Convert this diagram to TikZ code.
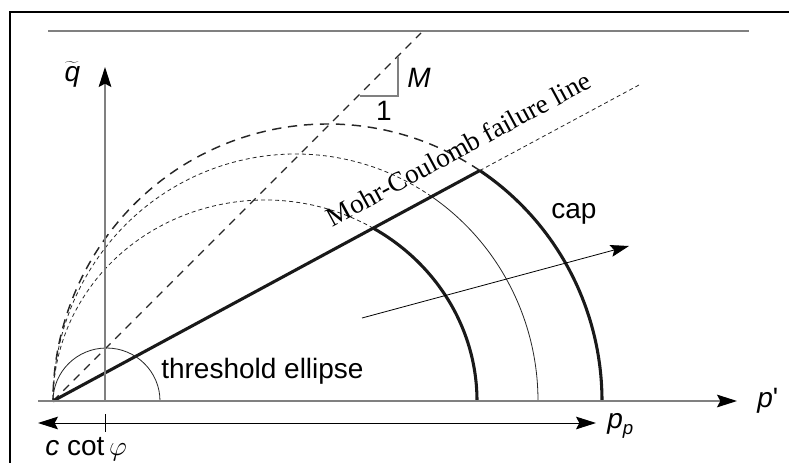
\documentclass[tikz,border=0pt]{standalone}
\usepackage{fontspec}
\setmainfont{Liberation Sans}
\newfontfamily\mcserif{Liberation Serif}
\usetikzlibrary{arrows.meta}
\tikzset{
  bigtip/.tip={Stealth[length=15pt,width=9.5pt,inset=2.5pt,black]},
  smalltip/.tip={Stealth[length=14pt,width=9pt,inset=2.5pt,black]},
}
\begin{document}
\begin{tikzpicture}[x=0.75pt,y=0.75pt,
  axisline/.style={draw=black!50, line width=1.1pt},
  thickline/.style={draw=black!90, line width=2.3pt},
  thinline/.style={draw=black!85, line width=0.6pt},
  longdash/.style={draw=black!85, line width=1.1pt, dash pattern=on 7pt off 5pt},
  mdash/.style={draw=black!85, line width=0.9pt, dash pattern=on 6pt off 5pt},
  shortdash/.style={draw=black!85, line width=0.6pt, dash pattern=on 3pt off 2.3pt},
  lab/.style={inner sep=0pt, font=\fontsize{21}{24}\selectfont},
]
\useasboundingbox (0,0) rectangle (789,462);
% frame
\draw[line width=1.5pt] (10,-5) -- (10,450.5) -- (795,450.5);
\draw[draw=black!50, line width=1pt] (48,431) -- (749,431);

% key points
\coordinate (O) at (53,61);
\coordinate (Cin) at (265,61);
\coordinate (Cmid) at (295.5,61);
\coordinate (Cout) at (327.5,61);
\path (Cin) ++(59.3:212 and 201) coordinate (Kin);
\path (Cmid) ++(55.9:242.5 and 247) coordinate (Kmid);
\path (Cout) ++(56.3:274.5 and 277) coordinate (Kout);
\coordinate (MCend) at (639,377);
\coordinate (Mend) at (421,429);

% dashed continuations of the yield surfaces
\draw[longdash] (Kout) arc[start angle=56.3, end angle=180, x radius=274.5, y radius=277];
\draw[shortdash] (Kmid) arc[start angle=55.9, end angle=180, x radius=242.5, y radius=247];
\draw[shortdash] (Kin) arc[start angle=59.3, end angle=180, x radius=212, y radius=201];

% solid caps
\draw[thickline] (Kout) arc[start angle=56.3, end angle=0, x radius=274.5, y radius=277];
\draw[thinline] (Kmid) arc[start angle=55.9, end angle=0, x radius=242.5, y radius=247];
\draw[thickline] (Kin) arc[start angle=59.3, end angle=0, x radius=212, y radius=201];

% M line
\draw[mdash] (O) -- (Mend);
\coordinate (Ta) at (360,366);
\coordinate (Tb) at (398,366);
\coordinate (Tc) at (398,405);
\draw[draw=black!50, line width=0.9pt] (Ta) -- (Tb) -- (Tc);
\node[lab, font=\fontsize{21}{24}\selectfont\itshape, anchor=base west] (Mlab) at (407,375) {M};
\node[lab, anchor=base] (onelab) at (384,342) {1};

% Mohr-Coulomb line
\draw[thickline] (O) -- (Kout);
\draw[shortdash] (Kout) -- (MCend);
\node[inner sep=0pt, font=\mcserif\fontsize{20.4}{22}\selectfont, rotate=28.37, anchor=base] (mclab) at (463,305) {Mohr-Coulomb failure line};

% threshold ellipse
\coordinate (Th) at (160,61);
\draw[thinline] (Th) arc[start angle=0, end angle=180, x radius=53.5, y radius=53];
\node[lab, anchor=base west] (thlab) at (161,84) {threshold ellipse};

\node[lab, anchor=base west] (caplab) at (551,244) {cap};

% hardening direction arrow
\coordinate (Ha) at (362,144);
\coordinate (Hb) at (629,216);
\draw[line width=0.6pt, -{smalltip}] (Ha) -- (Hb);

% axes
\coordinate (Xa) at (38,61);
\coordinate (Xb) at (737,61);
\coordinate (Ya) at (105,61);
\coordinate (Yb) at (105,395);
\draw[axisline, -{bigtip}] (Xa) -- (Xb);
\draw[axisline, -{bigtip}] (Ya) -- (Yb);
\node[lab, anchor=base west] (plab) at (757,55) {\textit{p}\textquotesingle};
\node[lab, anchor=base] (qlab) at (72.5,381) {$\widetilde{\mbox{\textit{q}}}$};

% lower double arrow
\coordinate (La) at (38,39);
\coordinate (Lb) at (596,39);
\draw[line width=0.7pt, {bigtip}-{bigtip}] (La) -- (Lb);
\coordinate (Tka) at (105,48);
\coordinate (Tkb) at (105,30);
\draw[line width=0.7pt] (Tka) -- (Tkb);
\node[lab, anchor=base west] (pplab) at (607,34) {\textit{p}\raisebox{-5pt}{\fontsize{14}{14}\selectfont\textit{p}}};
\node[lab, anchor=base west] (clab) at (45,7) {\textit{c} cot\,$\varphi$};
\end{tikzpicture}
\end{document}
